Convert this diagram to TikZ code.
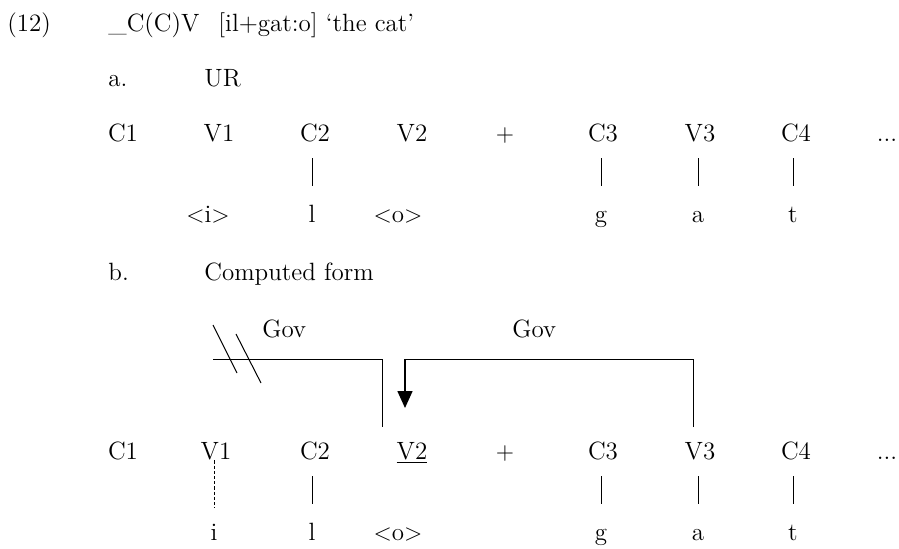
\documentclass[tikz,border=0pt]{standalone}
\usetikzlibrary{arrows.meta}
\begin{document}
\begin{tikzpicture}[x=0.5pt,y=-0.5pt,
  font=\fontsize{12.5}{15}\selectfont,
  lab/.style={inner sep=0pt, anchor=base west},
  seg/.style={inner sep=0pt, anchor=base, text height=8.5pt, text depth=0pt},
  low/.style={inner sep=0pt, anchor=base, text height=5.4pt, text depth=0pt},
  bar/.style={line width=0.5pt, shorten <=8.5pt, shorten >=12.6pt},
  dbar/.style={line width=0.5pt, dash pattern=on 1.6pt off 1pt, shorten <=0.5pt, shorten >=10.6pt},
  govline/.style={line width=0.5pt},
  govarrow/.style={line width=0.8pt, -{Triangle[length=8.5pt,width=7.5pt]}}]
\useasboundingbox (0,0) rectangle (899,548);

% header
\node[lab] (ex) at (7,31) {(12)};
\node[lab] (env) at (108,31) {\_C(C)V};
\node[lab] (form) at (218,31) {[il+gat:o] `the cat'};

% a.
\node[lab] (a) at (108,86) {a.};
\node[lab] (ur) at (204,86) {UR};

\node[seg] (C1a) at (123,141) {C1};
\node[seg] (V1a) at (219,141) {V1};
\node[seg] (C2a) at (315,141) {C2};
\node[seg] (V2a) at (412,141) {V2};
\node[seg] (Pa)  at (505,141) {$+$};
\node[seg] (C3a) at (603,141) {C3};
\node[seg] (V3a) at (700,141) {V3};
\node[seg] (C4a) at (796,141) {C4};
\node[seg] (Da)  at (887,141) {...};

\node[low] (ia) at (208,222) {$<$i$>$};
\node[low] (la) at (312,222) {l};
\node[low] (oa) at (398,222) {$<$o$>$};
\node[low] (ga) at (601,222) {g};
\node[low] (aa) at (698,222) {a};
\node[low] (ta) at (793,222) {t};

\draw[bar] (la |- C2a.south) -- (la.north);
\draw[bar] (ga |- C3a.south) -- (ga.north);
\draw[bar] (aa |- V3a.south) -- (aa.north);
\draw[bar] (ta |- C4a.south) -- (ta.north);

% b.
\node[lab] (b) at (108,280) {b.};
\node[lab] (cf) at (204,280) {Computed form};

\node[lab] (gov1) at (262,337) {Gov};
\node[lab] (gov2) at (512,337) {Gov};

\node[seg] (C1b) at (123,459) {C1};
\node[seg] (V1b) at (216,459) {V1};
\node[seg] (C2b) at (315,459) {C2};
\node[seg] (V2b) at (412,459) {\underline{V2}};
\node[seg] (Pb)  at (505,459) {$+$};
\node[seg] (C3b) at (603,459) {C3};
\node[seg] (V3b) at (700,459) {V3};
\node[seg] (C4b) at (796,459) {C4};
\node[seg] (Db)  at (887,459) {...};

\node[low] (ib) at (214,540) {i};
\node[low] (lb) at (312,540) {l};
\node[low] (ob) at (398,540) {$<$o$>$};
\node[low] (gb) at (601,540) {g};
\node[low] (ab) at (698,540) {a};
\node[low] (tb) at (793,540) {t};

\draw[dbar] (ib |- V1b.south) -- (ib.north);
\draw[bar] (lb |- C2b.south) -- (lb.north);
\draw[bar] (gb |- C3b.south) -- (gb.north);
\draw[bar] (ab |- V3b.south) -- (ab.north);
\draw[bar] (tb |- C4b.south) -- (tb.north);

% government 1 (blocked)
\coordinate (g1a) at (213,359);
\coordinate (g1b) at (382,427);
\draw[govline] (g1a) -| (g1b);
\draw[govline] (213,325) -- (237,373);
\draw[govline] (236,334) -- (261,383);

% government 2
\coordinate (g2a) at (693,427);
\coordinate (g2b) at (405,359);
\coordinate (g2c) at (405,408);
\draw[govline] (g2a) |- (g2b);
\draw[govarrow] (g2b) -- (g2c);
\end{tikzpicture}
\end{document}
